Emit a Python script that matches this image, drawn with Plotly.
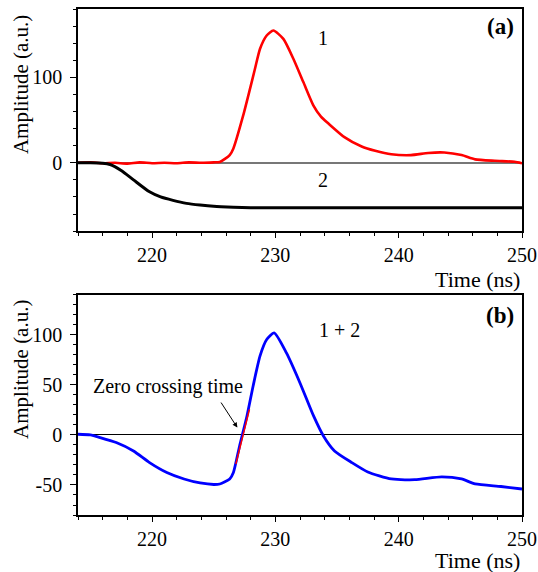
import plotly.graph_objects as go

# ---- data ----
t_red = [214, 215, 216, 217, 218, 219, 220, 221, 222, 223, 224, 225, 225.5, 226.3, 226.6,
         227.4, 227.95, 228.35, 228.76, 229.3, 229.84, 230.65, 231.46, 232.27, 233.08, 233.7,
         234.3, 235.6, 237.0, 238.1, 239.4, 241.0, 242.4, 243.7, 245.1, 246.2, 247.8, 249.4, 250]
v_red = [0, 0.5, -0.5, 0, -1, 0.5, -0.5, 0, -0.5, 0.5, 0, 0.5, 1, 9, 16.8,
         55.7, 86.8, 110, 133.5, 149, 154.8, 145, 121.8, 94.5, 67.3, 54,
         46, 30, 19, 14, 10, 9, 11.5, 12, 9, 4, 2.3, 1.2, -0.5]

t_black = [214, 215, 216, 216.6, 217.5, 218.5, 219.8, 220.7, 221.7, 222.8, 223.9, 225,
           226.6, 228, 230, 235, 240, 245, 250]
v_black = [0, 0, -0.5, -2, -9, -20, -34, -40, -44, -47.5, -49.5, -51,
           -52, -52.5, -52.5, -52.5, -52.5, -52.5, -52.5]

t_blue = [214, 215, 215.8, 217.1, 218.5, 219.8, 221.2, 222.6, 223.9, 225, 225.5, 226.3,
          226.6, 227.1, 227.7, 228.2, 228.76, 229.3, 229.9, 230.9, 232.0, 233.1, 233.9,
          234.8, 236.2, 237.5, 239.4, 241.3, 243.5, 245.1, 246.2, 248.3, 250]
v_blue = [0.7, 0, -2.6, -7.6, -16, -27.6, -37.5, -44, -48, -49.5, -49, -44,
          -37.5, -11, 19, 49, 79, 95.4, 102, 82, 52, 19, -1,
          -16, -27.6, -37, -44, -44.6, -41.8, -44, -49, -51.5, -54]

t_fit = [226.8, 227.9]
v_fit = [-29, 25.6]

x_ticks = [220, 230, 240, 250]
ya_ticks = [0, 100]
yb_ticks = [-50, 0, 50, 100]

FONT = "Liberation Serif"

fig = go.Figure()
fig.add_trace(go.Scatter(x=t_red, y=v_red, mode="lines", line=dict(color="#ff0000", width=2.6, shape="spline", smoothing=0.6),
                         xaxis="x", yaxis="y", showlegend=False))
fig.add_trace(go.Scatter(x=t_black, y=v_black, mode="lines", line=dict(color="black", width=3, shape="spline", smoothing=0.6),
                         xaxis="x", yaxis="y", showlegend=False))
fig.add_trace(go.Scatter(x=t_blue, y=v_blue, mode="lines", line=dict(color="#0000ff", width=2.8, shape="spline", smoothing=0.6),
                         xaxis="x2", yaxis="y2", showlegend=False))
fig.add_trace(go.Scatter(x=t_fit, y=v_fit, mode="lines", line=dict(color="#ff0000", width=1.5),
                         xaxis="x2", yaxis="y2", showlegend=False))

xcommon = dict(range=[214, 250], tickmode="array", tickvals=x_ticks, ticktext=[str(v) for v in x_ticks],
               ticks="outside", ticklen=5, tickwidth=1.2, tickcolor="black",
               minor=dict(tick0=214, dtick=2, ticks="outside", ticklen=3, tickcolor="black", tickwidth=1),
               showline=True, linecolor="black", linewidth=1.5, mirror=True, automargin=False,
               showgrid=False, zeroline=False, tickfont=dict(family=FONT, size=20, color="black"))

ycommon = dict(ticks="outside", ticklen=6, tickwidth=1.2, tickcolor="black", tickmode="array",
               showline=True, linecolor="black", linewidth=1.5, mirror=True, showgrid=False, automargin=False,
               tickfont=dict(family=FONT, size=20, color="black"), ticklabelstandoff=4)

fig.update_layout(
    width=538, height=572,
    margin=dict(l=78, r=16, t=9, b=57),
    plot_bgcolor="white", paper_bgcolor="white",
    font=dict(family=FONT, size=20, color="black"),
    xaxis=dict(anchor="y", domain=[0, 1], **xcommon),
    xaxis2=dict(anchor="y2", domain=[0, 1], **xcommon),
    yaxis=dict(anchor="x", domain=[0.561, 1], range=[-80, 180], tickvals=ya_ticks,
               ticktext=[str(v) for v in ya_ticks],
               minor=dict(tick0=0, dtick=20, ticks="outside", ticklen=3, tickcolor="black", tickwidth=1),
               zeroline=True, zerolinecolor="#777777", zerolinewidth=1.5, **ycommon),
    yaxis2=dict(anchor="x2", domain=[0, 0.435], range=[-80, 140], tickvals=yb_ticks,
                ticktext=[str(v) for v in yb_ticks],
                minor=dict(tick0=0, dtick=10, ticks="outside", ticklen=3, tickcolor="black", tickwidth=1),
                zeroline=True, zerolinecolor="black", zerolinewidth=1, **ycommon),
)

ann = []
# axis titles
for yc in (0.850, 0.287):
    ann.append(dict(text="Amplitude (a.u.)", xref="paper", yref="paper", x=-0.128, y=yc, textangle=-90,
                    showarrow=False, xanchor="center", yanchor="middle", font=dict(family=FONT, size=21)))
for yc in (0.466, -0.089):
    ann.append(dict(text="Time (ns)", xref="paper", yref="paper", x=1.0, y=yc, showarrow=False,
                    xanchor="right", yanchor="middle", font=dict(family=FONT, size=22)))
# panel labels
ann.append(dict(text="<b>(a)</b>", xref="paper", yref="paper", x=0.986, y=0.965, showarrow=False,
                xanchor="right", yanchor="middle", font=dict(family=FONT, size=23)))
ann.append(dict(text="<b>(b)</b>", xref="paper", yref="paper", x=0.986, y=0.395, showarrow=False,
                xanchor="right", yanchor="middle", font=dict(family=FONT, size=23)))
# curve labels
ann.append(dict(text="1", xref="x", yref="y", x=233.9, y=146, showarrow=False, font=dict(family=FONT, size=20)))
ann.append(dict(text="2", xref="x", yref="y", x=233.9, y=-20, showarrow=False, font=dict(family=FONT, size=20)))
ann.append(dict(text="1 + 2", xref="x2", yref="y2", x=235.2, y=105, showarrow=False, font=dict(family=FONT, size=20)))
ann.append(dict(text="Zero crossing time", xref="x2", yref="y2", x=221.26, y=48, showarrow=False,
                font=dict(family=FONT, size=20)))
ann.append(dict(text="", xref="x2", yref="y2", x=226.92, y=7.4, ax=225.52, ay=33.9, axref="x2", ayref="y2",
                showarrow=True, arrowhead=2, arrowsize=1, arrowwidth=1, arrowcolor="black"))
fig.update_layout(annotations=ann)

fig.write_html("out.html")
